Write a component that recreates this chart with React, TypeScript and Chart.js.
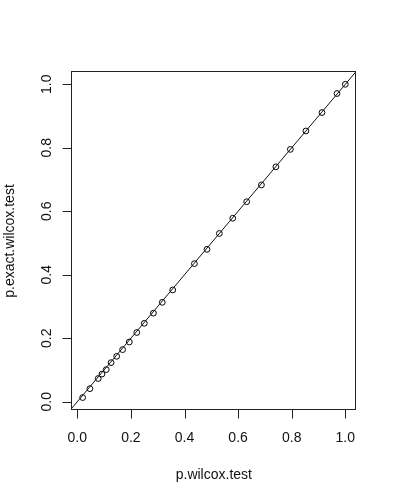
import React, { useEffect, useRef } from "react";
import { Chart, registerables } from "chart.js";

Chart.register(...registerables);

// p-values
const pWilcox = [0.020, 0.047, 0.078, 0.092, 0.108, 0.126, 0.147, 0.169, 0.194, 0.222, 0.250, 0.284, 0.317, 0.356, 0.437, 0.484, 0.530, 0.580, 0.632, 0.687, 0.741, 0.795, 0.853, 0.913, 0.969, 1.000];
const pExact = [0.013, 0.041, 0.073, 0.087, 0.101, 0.123, 0.143, 0.164, 0.188, 0.218, 0.247, 0.279, 0.313, 0.352, 0.435, 0.480, 0.530, 0.578, 0.630, 0.683, 0.740, 0.795, 0.853, 0.911, 0.971, 1.000];

// abline(0, 1)
const ablineX = [-1, 2];
const ablineY = [-1, 2];

const tickValues = [0, 0.2, 0.4, 0.6, 0.8, 1.0];
const tickLabels = ["0.0", "0.2", "0.4", "0.6", "0.8", "1.0"];

const xTitle = "p.wilcox.test";
const yTitle = "p.exact.wilcox.test";

const FONT = '14px "Liberation Sans", Arial, sans-serif';

const rAxesPlugin = {
  id: "rAxes",
  afterDraw(chart: any) {
    const { ctx, chartArea, scales } = chart;
    const xs = scales.x;
    const ys = scales.y;
    ctx.save();
    // box
    ctx.strokeStyle = "#222";
    ctx.lineWidth = 1;
    const l = Math.round(chartArea.left) - 0.5;
    const t = Math.round(chartArea.top) - 0.5;
    const r = Math.round(chartArea.right) - 0.5;
    const b = Math.round(chartArea.bottom) - 0.5;
    ctx.strokeRect(l, t, r - l, b - t);

    ctx.fillStyle = "#111";
    ctx.font = FONT;
    // x ticks
    ctx.textAlign = "center";
    ctx.textBaseline = "alphabetic";
    tickValues.forEach((v, i) => {
      const px = Math.round(xs.getPixelForValue(v)) + 0.5;
      ctx.beginPath();
      ctx.moveTo(px, b);
      ctx.lineTo(px, b + 9);
      ctx.stroke();
      ctx.fillText(tickLabels[i], xs.getPixelForValue(v), b + 32.5);
    });
    // y ticks
    tickValues.forEach((v, i) => {
      const py = Math.round(ys.getPixelForValue(v)) + 0.5;
      ctx.beginPath();
      ctx.moveTo(l, py);
      ctx.lineTo(l - 9, py);
      ctx.stroke();
      ctx.save();
      ctx.translate(51, ys.getPixelForValue(v));
      ctx.rotate(-Math.PI / 2);
      ctx.fillText(tickLabels[i], 0, 0);
      ctx.restore();
    });
    // titles
    const cx = (chartArea.left + chartArea.right) / 2;
    const cy = (chartArea.top + chartArea.bottom) / 2;
    ctx.fillText(xTitle, cx, 479);
    ctx.save();
    ctx.translate(13.5, cy);
    ctx.rotate(-Math.PI / 2);
    ctx.fillText(yTitle, 0, 0);
    ctx.restore();
    ctx.restore();
  },
};

export default function App() {
  const ref = useRef<HTMLCanvasElement | null>(null);
  useEffect(() => {
    if (!ref.current) return;
    const chart = new Chart(ref.current, {
      type: "scatter",
      data: {
        datasets: [
          {
            type: "line",
            data: ablineX.map((x, i) => ({ x, y: ablineY[i] })),
            borderColor: "#111",
            borderWidth: 1,
            pointRadius: 0,
            fill: false,
            clip: 0,
            order: 0,
          } as any,
          {
            type: "scatter",
            data: pWilcox.map((x, i) => ({ x, y: pExact[i] })),
            pointStyle: "circle",
            pointRadius: 2.9,
            pointBorderWidth: 1,
            pointBorderColor: "#000",
            pointBackgroundColor: "rgba(0,0,0,0)",
            borderColor: "#000",
            backgroundColor: "rgba(0,0,0,0)",
            order: 1,
          } as any,
        ],
      },
      options: {
        responsive: false,
        animation: false,
        events: [],
        layout: { padding: { left: 72, top: 72, right: 37.3, bottom: 90 } },
        plugins: { legend: { display: false }, tooltip: { enabled: false } },
        scales: {
          x: { type: "linear", display: false, min: -0.0198, max: 1.0388 },
          y: { type: "linear", display: false, min: -0.0262, max: 1.0388 },
        },
      },
      plugins: [rAxesPlugin],
    });
    return () => chart.destroy();
  }, []);
  return (
    <div style={{ position: "absolute", left: 0, top: 0, width: 393, height: 500, background: "#fff" }}>
      <canvas ref={ref} width={393} height={500} style={{ display: "block" }} />
    </div>
  );
}
